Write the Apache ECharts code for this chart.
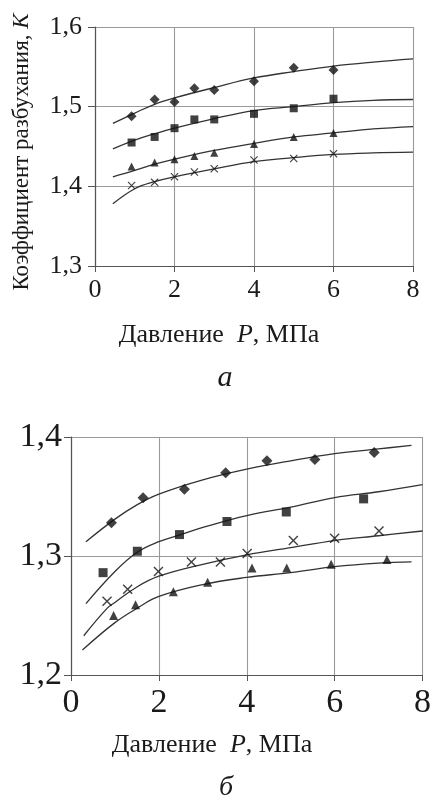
<!DOCTYPE html>
<html>
<head>
<meta charset="utf-8">
<script src="https://cdn.jsdelivr.net/npm/echarts@6/dist/echarts.min.js"></script>
<style>
  html, body { margin: 0; padding: 0; background: #fff; }
  #main { width: 434px; height: 799px; }
</style>
</head>
<body>
<div id="main"></div>
<script>
// chart a: measured points
var ptsA = [0.92, 1.5, 2, 2.5, 3, 4, 5, 6];
var aDiamond = [1.488, 1.509, 1.506, 1.523, 1.521, 1.532, 1.549, 1.546];
var aSquare = [1.455, 1.462, 1.473, 1.484, 1.484, 1.491, 1.498, 1.510];
var aTriangle = [1.425, 1.430, 1.434, 1.438, 1.442, 1.453, 1.462, 1.467];
var aCross = [1.401, 1.405, 1.412, 1.418, 1.422, 1.433, 1.435, 1.441];
// chart a: fitted curves
var fitXA = [0.45, 1, 1.5, 2, 3, 4, 5, 6, 7, 8];
var aFit1 = [1.479, 1.492, 1.503, 1.511, 1.524, 1.536, 1.544, 1.551, 1.556, 1.560];
var aFit2 = [1.447, 1.458, 1.466, 1.473, 1.485, 1.495, 1.500, 1.505, 1.508, 1.509];
var aFit3 = [1.412, 1.420, 1.428, 1.434, 1.445, 1.454, 1.462, 1.467, 1.472, 1.475];
var aFit4 = [1.378, 1.397, 1.406, 1.412, 1.422, 1.431, 1.436, 1.440, 1.442, 1.443];

// chart б: measured points
var bDiamondX = [0.92, 1.64, 2.58, 3.52, 4.46, 5.55, 6.90];
var bDiamond = [1.328, 1.349, 1.356, 1.370, 1.380, 1.381, 1.387];
var bSquareX = [0.73, 1.51, 2.47, 3.55, 4.9, 6.66];
var bSquare = [1.286, 1.304, 1.318, 1.329, 1.337, 1.348];
var bCrossX = [0.82, 1.29, 1.99, 2.74, 3.40, 4.01, 5.06, 6.0, 7.01];
var bCross = [1.262, 1.272, 1.287, 1.295, 1.295, 1.302, 1.313, 1.315, 1.321];
var bTriangleX = [0.97, 1.47, 2.33, 3.11, 4.12, 4.91, 5.92, 7.19];
var bTriangle = [1.250, 1.259, 1.270, 1.278, 1.290, 1.290, 1.293, 1.297];
// chart б: fitted curves
var bFit1X = [0.34, 1, 1.5, 2, 3, 4, 5, 6, 7, 7.75];
var bFit1 = [1.312, 1.331, 1.343, 1.352, 1.364, 1.373, 1.380, 1.386, 1.390, 1.393];
var bFit2X = [0.34, 1, 1.5, 2, 2.5, 3, 4, 5, 6, 7, 8];
var bFit2 = [1.260, 1.287, 1.303, 1.312, 1.318, 1.324, 1.334, 1.341, 1.349, 1.354, 1.360];
var bFit3X = [0.29, 0.82, 1, 1.5, 2, 3, 4, 5, 6, 7, 8];
var bFit3 = [1.233, 1.256, 1.261, 1.274, 1.283, 1.293, 1.301, 1.307, 1.313, 1.317, 1.321];
var bFit4X = [0.26, 1, 1.5, 2, 3, 4, 5, 6, 7, 7.75];
var bFit4 = [1.221, 1.244, 1.256, 1.266, 1.276, 1.282, 1.286, 1.291, 1.294, 1.295];

var yTicksA = ['1,3', '1,4', '1,5', '1,6'];
var yTicksB = ['1,2', '1,3', '1,4'];

var serif = 'Liberation Serif';
var crossPath = 'path://M0,1L1,0L5,4L9,0L10,1L6,5L10,9L9,10L5,6L1,10L0,9L4,5Z';

function zip(xs, ys) {
  return xs.map(function (x, i) { return [x, ys[i]]; });
}

function dots(idx, xs, ys, symbol, size) {
  return {
    type: 'scatter', xAxisIndex: idx, yAxisIndex: idx,
    data: zip(xs, ys), symbol: symbol, symbolSize: size,
    itemStyle: { color: '#111' }, z: 5, silent: true
  };
}

function curve(idx, xs, ys) {
  return {
    type: 'line', xAxisIndex: idx, yAxisIndex: idx,
    data: zip(xs, ys), smooth: 0.4, showSymbol: false,
    lineStyle: { color: '#333', width: 1.3 }, z: 4, silent: true
  };
}

function xAxis(idx, size) {
  return {
    type: 'value', gridIndex: idx, min: 0, max: 8, interval: 2,
    axisLine: { show: true, lineStyle: { color: '#555', width: 1.2 } },
    axisTick: { show: true, length: 6, lineStyle: { color: '#555' } },
    axisLabel: { fontFamily: serif, fontSize: size, color: '#1a1a1a', margin: 11 },
    splitLine: { show: true, lineStyle: { color: '#9a9a9a', width: 1.1 } }
  };
}

function yAxis(idx, size, min, max, labels, margin) {
  return {
    type: 'value', gridIndex: idx, min: min, max: max, interval: 0.1,
    axisLine: { show: true, lineStyle: { color: '#555', width: 1.2 } },
    axisTick: { show: true, length: 7, lineStyle: { color: '#555' } },
    axisLabel: {
      fontFamily: serif, fontSize: size, color: '#1a1a1a', margin: margin,
      formatter: function (v) {
        var i = Math.round((v - min) * 10);
        return labels[i];
      }
    },
    splitLine: { show: true, lineStyle: { color: '#9a9a9a', width: 1.1 } }
  };
}

function xName(x, y) {
  return {
    type: 'text', x: x, y: y,
    style: {
      text: 'Давление  {i|P}, МПа',
      font: '26px "Liberation Serif"', fill: '#1a1a1a',
      align: 'center', verticalAlign: 'middle',
      rich: { i: { fontFamily: serif, fontSize: 26, fontStyle: 'italic', fill: '#1a1a1a' } }
    }
  };
}

var chart = echarts.init(document.getElementById('main'));
chart.setOption({
  backgroundColor: '#fff',
  animation: false,
  grid: [
    { left: 95, top: 27, width: 318, height: 239 },
    { left: 71, top: 437, width: 356, height: 238 }
  ],
  xAxis: [xAxis(0, 26), xAxis(1, 34)],
  yAxis: [
    yAxis(0, 26, 1.3, 1.6, yTicksA, 13),
    yAxis(1, 34, 1.2, 1.4, yTicksB, 9)
  ],
  graphic: [
    {
      type: 'text', x: 22, y: 152, rotation: Math.PI / 2,
      style: {
        text: 'Коэффициент разбухания, {i|K}',
        font: '23px "Liberation Serif"', fill: '#1a1a1a',
        align: 'center', verticalAlign: 'middle',
        rich: { i: { fontFamily: serif, fontSize: 23, fontStyle: 'italic', fill: '#1a1a1a' } }
      }
    },
    xName(219, 335),
    {
      type: 'text', x: 225, y: 378,
      style: { text: 'а', font: 'italic 30px "Liberation Serif"', fill: '#1a1a1a', align: 'center', verticalAlign: 'middle' }
    },
    xName(212, 745),
    {
      type: 'text', x: 226, y: 788,
      style: { text: 'б', font: 'italic 28px "Liberation Serif"', fill: '#1a1a1a', align: 'center', verticalAlign: 'middle' }
    }
  ],
  series: [
    curve(0, fitXA, aFit1),
    curve(0, fitXA, aFit2),
    curve(0, fitXA, aFit3),
    curve(0, fitXA, aFit4),
    dots(0, ptsA, aDiamond, 'diamond', 10),
    dots(0, ptsA, aSquare, 'rect', 8),
    dots(0, ptsA, aTriangle, 'triangle', 8),
    dots(0, ptsA, aCross, crossPath, 8),

    curve(1, bFit1X, bFit1),
    curve(1, bFit2X, bFit2),
    curve(1, bFit3X, bFit3),
    curve(1, bFit4X, bFit4),
    dots(1, bDiamondX, bDiamond, 'diamond', 11),
    dots(1, bSquareX, bSquare, 'rect', 9),
    dots(1, bCrossX, bCross, crossPath, 10),
    dots(1, bTriangleX, bTriangle, 'triangle', 9)
  ]
});
</script>
</body>
</html>
